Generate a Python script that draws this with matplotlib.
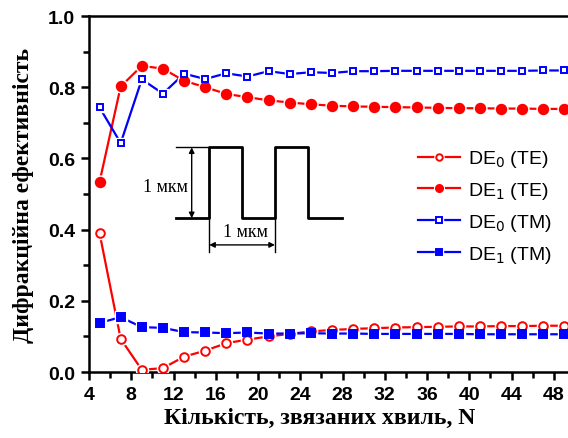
import matplotlib
matplotlib.use("Agg")
import matplotlib.pyplot as plt
from matplotlib.ticker import MultipleLocator

N = [5, 7, 9, 11, 13, 15, 17, 19, 21, 23, 25, 27, 29, 31, 33, 35, 37, 39, 41, 43, 45, 47, 49]

de0_te = [0.390, 0.093, 0.006, 0.011, 0.043, 0.060, 0.081, 0.091, 0.100, 0.107, 0.114, 0.118,
          0.121, 0.123, 0.125, 0.126, 0.127, 0.128, 0.128, 0.129, 0.129, 0.130, 0.130]
de1_te = [0.534, 0.802, 0.860, 0.852, 0.818, 0.800, 0.781, 0.772, 0.763, 0.757, 0.752, 0.748,
          0.746, 0.745, 0.744, 0.743, 0.742, 0.741, 0.741, 0.740, 0.740, 0.739, 0.739]
de0_tm = [0.743, 0.643, 0.822, 0.782, 0.838, 0.823, 0.839, 0.830, 0.845, 0.837, 0.842, 0.840,
          0.845, 0.845, 0.846, 0.846, 0.846, 0.846, 0.846, 0.846, 0.846, 0.847, 0.847]
de1_tm = [0.138, 0.154, 0.126, 0.124, 0.112, 0.111, 0.109, 0.111, 0.108, 0.108, 0.109, 0.108,
          0.108, 0.107, 0.107, 0.107, 0.107, 0.107, 0.106, 0.106, 0.106, 0.106, 0.106]

labels = ["DE$_0$ (TE)", "DE$_1$ (TE)", "DE$_0$ (TM)", "DE$_1$ (TM)"]

fig = plt.figure(figsize=(5.68, 4.39), dpi=100)
ax = fig.add_axes([89 / 568, 1 - 373 / 439, 486 / 568, 356 / 439])

red = "#ff0000"
blue = "#0000ff"


def curve(y, color, marker, ms, filled):
    line, = ax.plot(N, y, "-", color=color, lw=1.6, zorder=2)
    halo, = ax.plot(N, y, marker, ls="none", ms=ms + 2.5, mfc="white", mec="white", zorder=3)
    face = color if filled else "white"
    mk, = ax.plot(N, y, marker, ls="none", ms=ms, mfc=face, mec=color, mew=1.4, zorder=4)
    return (line, halo, mk)


h1 = curve(de0_te, red, "o", 6.2, False)
h2 = curve(de1_te, red, "o", 6.8, True)
h3 = curve(de0_tm, blue, "s", 5.0, False)
h4 = curve(de1_tm, blue, "s", 5.5, True)

ax.set_xlim(4, 50)
ax.set_ylim(0, 1.0)
ax.xaxis.set_major_locator(MultipleLocator(4))
ax.xaxis.set_minor_locator(MultipleLocator(2))
ax.yaxis.set_major_locator(MultipleLocator(0.2))
ax.yaxis.set_minor_locator(MultipleLocator(0.1))
ax.yaxis.set_major_formatter(matplotlib.ticker.FormatStrFormatter("%.1f"))
ax.tick_params(which="major", direction="out", length=6, width=1.8, labelsize=14, pad=4)
ax.tick_params(which="minor", direction="out", length=4, width=1.8)
for s in ax.spines.values():
    s.set_linewidth(1.8)
for t in ax.get_xticklabels() + ax.get_yticklabels():
    t.set_fontweight("bold")
    t.set_fontfamily("Liberation Sans")

ax.set_xlabel("Кількість, звязаних хвиль, N", fontsize=17, fontweight="bold",
              family="Liberation Serif")
ax.xaxis.set_label_coords(0.475, -0.098)
ax.set_ylabel("Дифракційна ефективність", fontsize=17, fontweight="bold",
              family="Liberation Serif", labelpad=10)

# inset: grating profile
px = [12.23, 15.38, 15.38, 18.47, 18.47, 21.6, 21.6, 24.69, 24.69, 27.9]
py = [0.432, 0.432, 0.631, 0.631, 0.432, 0.432, 0.631, 0.631, 0.432, 0.432]
ax.plot(px, py, color="black", lw=2, zorder=1)
ax.plot([12.23, 15.38], [0.631, 0.631], color="black", lw=1, zorder=1)
ax.plot([15.38, 15.38], [0.432, 0.337], color="black", lw=1, zorder=1)
ax.plot([21.6, 21.6], [0.432, 0.337], color="black", lw=1, zorder=1)
ax.annotate("", xy=(13.72, 0.631), xytext=(13.72, 0.432),
            arrowprops=dict(arrowstyle="<|-|>", color="black", lw=1, mutation_scale=8, shrinkA=0, shrinkB=0))
ax.annotate("", xy=(15.38, 0.357), xytext=(21.6, 0.357),
            arrowprops=dict(arrowstyle="<|-|>", color="black", lw=1, mutation_scale=8, shrinkA=0, shrinkB=0))
ax.text(11.2, 0.522, "1 мкм", family="Liberation Serif", fontsize=13, ha="center", va="center")
ax.text(18.85, 0.396, "1 мкм", family="Liberation Serif", fontsize=13, ha="center", va="center")

ax.legend([h1, h2, h3, h4], labels, loc="upper left", bbox_to_anchor=(400 / 568, 1 - 132 / 439),
          bbox_transform=fig.transFigure, frameon=False, handlelength=2.2, markerscale=0.75,
          handletextpad=0.4, labelspacing=0.55, prop={"family": "Liberation Sans", "size": 14})

fig.savefig("out.png", dpi=100)
